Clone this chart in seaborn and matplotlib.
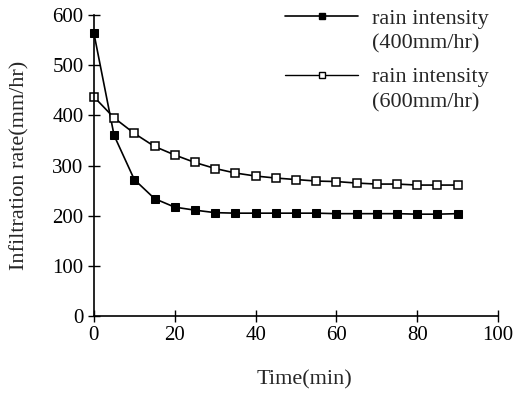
import pandas as pd
import matplotlib
matplotlib.use("Agg")
import matplotlib.pyplot as plt
from matplotlib.lines import Line2D
import seaborn as sns

# time steps (min)
time_min = [0, 5, 10, 15, 20, 25, 30, 35, 40, 45, 50, 55, 60, 65, 70, 75, 80, 85, 90]

# infiltration rate (mm/hr)
rate_400 = [564, 360, 272, 234, 217, 211, 206, 205, 205, 205, 205, 205, 204, 204, 204, 204, 203, 203, 204]
rate_600 = [437, 395, 364, 338, 321, 306, 294, 285, 279, 275, 272, 269, 268, 265, 263, 263, 261, 261, 261]

label_400 = ["rain intensity", "(400mm/hr)"]
label_600 = ["rain intensity", "(600mm/hr)"]

df = pd.DataFrame({"time": time_min, "r400": rate_400, "r600": rate_600})

sns.set_style("ticks")
plt.rcParams["font.family"] = ["Liberation Serif", "DejaVu Serif"]

fig, ax = plt.subplots(figsize=(5.13, 3.95), dpi=100)

sns.lineplot(data=df, x="time", y="r400", ax=ax, color="black", lw=1.2,
             marker="s", markersize=5.5, markerfacecolor="black",
             markeredgecolor="black", clip_on=False)
sns.lineplot(data=df, x="time", y="r600", ax=ax, color="black", lw=1.2,
             marker="s", markersize=5.5, markerfacecolor="white",
             markeredgecolor="black", markeredgewidth=1.1, clip_on=False)

ax.set_xlim(0, 100)
ax.set_ylim(0, 600)
ax.set_xticks([0, 20, 40, 60, 80, 100])
ax.set_yticks([0, 100, 200, 300, 400, 500, 600])
ax.tick_params(direction="inout", length=8, width=1, labelsize=15, colors="black")
sns.despine(ax=ax)
for s in ["left", "bottom"]:
    ax.spines[s].set_linewidth(1.2)
    ax.spines[s].set_color("black")

ax.set_xlabel("Time(min)", fontsize=16)
ax.set_ylabel("Infiltration rate(mm/hr)", fontsize=16)
ax.xaxis.set_label_coords(0.52, -0.18)
ax.yaxis.set_label_coords(-0.16, 0.5)

# legend: handle sits on the first line of each two-line label
h400 = Line2D([], [], color="black", lw=1.2, marker="s", markersize=5,
              markerfacecolor="black", markeredgecolor="black")
h600 = Line2D([], [], color="black", lw=1.0, marker="s", markersize=4.5,
              markerfacecolor="white", markeredgecolor="black")
blank = Line2D([], [], color="none")
leg_kw = dict(loc="upper left", frameon=False, fontsize=16, handlelength=3.3,
              handletextpad=0.6, labelspacing=0.2, borderpad=0, borderaxespad=0)

leg1 = ax.legend([h400, blank], label_400, bbox_to_anchor=(0.473, 1.023), **leg_kw)
ax.add_artist(leg1)
ax.legend([h600, blank], label_600, bbox_to_anchor=(0.473, 0.828), **leg_kw)

fig.subplots_adjust(left=0.183, right=0.971, top=0.962, bottom=0.2)
fig.savefig("out.png", dpi=100)
